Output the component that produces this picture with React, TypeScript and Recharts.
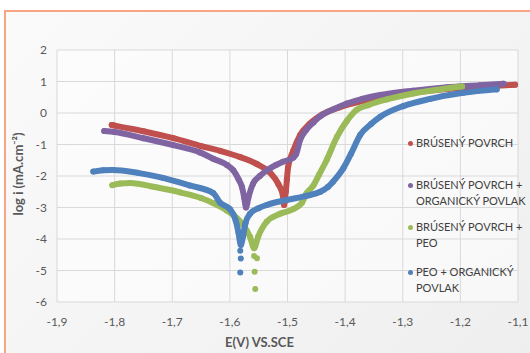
import React from "react";
import {
  CartesianGrid,
  Scatter,
  ScatterChart,
  XAxis,
  YAxis,
} from "recharts";

// E (V vs. SCE) and log i, one pair of arrays per curve
const brusenyE = [
  -1.805, -1.8, -1.75, -1.698, -1.65, -1.617, -1.582, -1.553, -1.53, -1.516, -1.508, -1.506,
  -1.503, -1.501, -1.499, -1.49, -1.478, -1.462, -1.44, -1.41, -1.37, -1.33, -1.28, -1.22,
  -1.16, -1.105,
];
const brusenyLogI = [
  -0.38, -0.4, -0.58, -0.8, -1.05, -1.2, -1.4, -1.62, -1.9, -2.25, -2.62, -2.92, -2.5, -2.1,
  -1.72, -1.2, -0.7, -0.35, -0.05, 0.18, 0.38, 0.52, 0.65, 0.77, 0.85, 0.9,
];

const organickyE = [
  -1.818, -1.8, -1.75, -1.698, -1.652, -1.629, -1.605, -1.594, -1.585, -1.579, -1.575, -1.572,
  -1.568, -1.56, -1.548, -1.536, -1.52, -1.508, -1.49, -1.485, -1.478, -1.468, -1.455, -1.443,
  -1.42, -1.397, -1.37, -1.339, -1.282, -1.223, -1.166, -1.125,
];
const organickyLogI = [
  -0.57, -0.6, -0.8, -1.02, -1.25, -1.45, -1.65, -1.82, -2.1, -2.35, -2.7, -3.0, -2.7, -2.25,
  -2.0, -1.82, -1.65, -1.55, -1.42, -1.3, -0.85, -0.55, -0.3, -0.1, 0.12, 0.3, 0.45, 0.57,
  0.71, 0.82, 0.88, 0.93,
];

const peoE = [
  -1.804, -1.79, -1.773, -1.73, -1.686, -1.65, -1.629, -1.605, -1.582, -1.565, -1.558, -1.551,
  -1.536, -1.513, -1.49, -1.475, -1.467, -1.455, -1.445, -1.432, -1.414, -1.397, -1.38, -1.36,
  -1.328, -1.282, -1.235, -1.197,
];
const peoLogI = [
  -2.29, -2.24, -2.22, -2.35, -2.52, -2.7, -2.86, -3.1, -3.45, -3.93, -4.29, -3.93, -3.45,
  -3.2, -3.05, -2.85, -2.55, -2.3, -1.95, -1.49, -0.75, -0.25, 0.1, 0.25, 0.43, 0.62, 0.75,
  0.84,
];
const peoDotsE = [-1.558, -1.553, -1.557, -1.556];
const peoDotsLogI = [-4.54, -4.61, -5.04, -5.59];

const peoOrgE = [
  -1.837, -1.82, -1.803, -1.76, -1.716, -1.67, -1.629, -1.617, -1.6, -1.59, -1.585, -1.581,
  -1.577, -1.573, -1.565, -1.55, -1.536, -1.501, -1.467, -1.443, -1.43, -1.421, -1.403, -1.39,
  -1.374, -1.355, -1.339, -1.299, -1.252, -1.195, -1.137,
];
const peoOrgLogI = [
  -1.86, -1.82, -1.81, -1.9, -2.06, -2.3, -2.54, -2.85, -3.05, -3.4, -3.8, -4.19, -3.9, -3.5,
  -3.2, -3.02, -2.92, -2.76, -2.63, -2.5, -2.35, -2.18, -1.75, -1.3, -0.7, -0.35, -0.12, 0.22,
  0.45, 0.64, 0.75,
];
const peoOrgDotsE = [-1.582, -1.581, -1.582];
const peoOrgDotsLogI = [-4.37, -4.62, -5.06];

const xTicks = [-1.9, -1.8, -1.7, -1.6, -1.5, -1.4, -1.3, -1.2, -1.1];
const yTicks = [-6, -5, -4, -3, -2, -1, 0, 1, 2];

// legend labels, wrapped the way the reference wraps them
const legendLines = [
  ["BRÚSENÝ POVRCH"],
  ["BRÚSENÝ POVRCH +", "ORGANICKÝ POVLAK"],
  ["BRÚSENÝ POVRCH +", "PEO"],
  ["PEO + ORGANICKÝ", "POVLAK"],
];

const zip = (xs: number[], ys: number[]) => xs.map((e, i) => ({ e, logI: ys[i] }));

const series = [
  { color: "#c0504d", data: zip(brusenyE, brusenyLogI), dots: [] as { e: number; logI: number }[] },
  { color: "#8064a2", data: zip(organickyE, organickyLogI), dots: [] },
  { color: "#9bbb59", data: zip(peoE, peoLogI), dots: zip(peoDotsE, peoDotsLogI) },
  { color: "#4f81bd", data: zip(peoOrgE, peoOrgLogI), dots: zip(peoOrgDotsE, peoOrgDotsLogI) },
].map((s, i) => ({ ...s, name: legendLines[i].join(" ") }));

const font = "Lato, 'Open Sans', sans-serif";
const comma = (v: number) => String(v).replace(".", ",");

const dot = (color: string, r: number) => (props: any) =>
  <circle cx={props.cx} cy={props.cy} r={r} fill={color} />;

export default function App() {
  return (
    <div
      style={{
        position: "absolute",
        left: 0,
        top: 0,
        width: 530,
        height: 353,
        overflow: "hidden",
        background: "#fff",
        fontFamily: font,
      }}
    >
      <div
        style={{
          position: "absolute",
          left: 4,
          top: 10,
          width: 540,
          height: 360,
          border: "2px solid #f8a682",
          background: "linear-gradient(135deg, #fafafa 0%, #f3f3f3 60%, #eeeeee 100%)",
        }}
      />
      <div style={{ position: "absolute", left: 0, top: 0 }}>
        <ScatterChart width={530} height={353} margin={{ top: 50, right: 12, bottom: 0, left: 0 }}>
          <CartesianGrid stroke="#d9d9d9" fill="#ffffff" fillOpacity={0.55} />
          <XAxis
            type="number"
            dataKey="e"
            domain={[-1.9, -1.1]}
            ticks={xTicks}
            tickFormatter={comma}
            axisLine={false}
            tickLine={false}
            tickSize={6}
            tickMargin={9}
            height={51}
            interval={0}
            tick={{ fill: "#595959", fontSize: 12, fontFamily: font }}
            label={{
              content: ({ viewBox }: any) => (
                <text
                  x={viewBox.x + viewBox.width / 2 - 28}
                  y={viewBox.y + viewBox.height - 6}
                  textAnchor="middle"
                  fill="#595959"
                  fontWeight="bold"
                  fontSize={13}
                  fontFamily={font}
                >
                  E(V) VS.SCE
                </text>
              ),
            }}
          />
          <YAxis
            type="number"
            dataKey="logI"
            domain={[-6, 2]}
            ticks={yTicks}
            axisLine={false}
            tickLine={false}
            tickSize={6}
            tickMargin={4}
            width={57}
            interval={0}
            tick={{ fill: "#595959", fontSize: 12, fontFamily: font }}
            label={{
              content: ({ viewBox }: any) => {
                const cy = viewBox.y + viewBox.height / 2 - 2;
                return (
                  <text
                    x={18}
                    y={cy}
                    transform={`rotate(-90, 18, ${cy})`}
                    textAnchor="middle"
                    dominantBaseline="central"
                    fill="#595959"
                    fontWeight="bold"
                    fontSize={13}
                    fontFamily={font}
                  >
                    log i (mA.cm⁻²)
                  </text>
                );
              },
            }}
          />
          {series.map((s) => (
            <Scatter
              key={s.name}
              name={s.name}
              data={s.data}
              line={{ stroke: s.color, strokeWidth: 6, strokeLinejoin: "round", strokeLinecap: "round" }}
              lineJointType="monotoneX"
              shape={dot(s.color, 3)}
              isAnimationActive={false}
            />
          ))}
          {series
            .filter((s) => s.dots.length)
            .map((s) => (
              <Scatter
                key={s.name + "-dots"}
                data={s.dots}
                shape={dot(s.color, 3)}
                legendType="none"
                isAnimationActive={false}
              />
            ))}
        </ScatterChart>
      </div>
      <div style={{ position: "absolute", left: 408, top: 135 }}>
        {series.map((s, i) => (
          <div
            key={s.name}
            style={{
              position: "relative",
              height: i === 2 ? 45 : 42,
              paddingLeft: 8,
              fontSize: 11,
              lineHeight: "16px",
              color: "#404040",
              whiteSpace: "nowrap",
            }}
          >
            <span
              style={{
                position: "absolute",
                left: 0,
                top: 5.5,
                width: 5,
                height: 5,
                borderRadius: "50%",
                background: s.color,
              }}
            />
            {legendLines[i].map((line) => (
              <div key={line}>{line}</div>
            ))}
          </div>
        ))}
      </div>
    </div>
  );
}
